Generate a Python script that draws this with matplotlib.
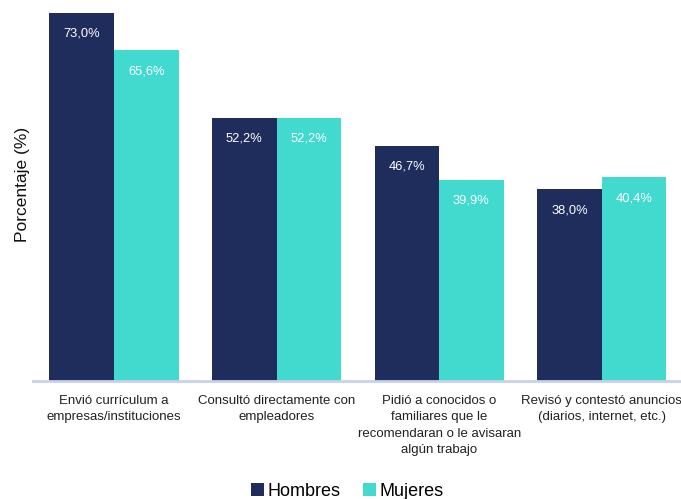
import matplotlib
matplotlib.use("Agg")
import matplotlib.pyplot as plt
from matplotlib import font_manager
import numpy as np

categories = [
    "Envió currículum a\nempresas/instituciones",
    "Consultó directamente con\nempleadores",
    "Pidió a conocidos o\nfamiliares que le\nrecomendaran o le avisaran\nalgún trabajo",
    "Revisó y contestó anuncios\n(diarios, internet, etc.)",
]
hombres = [73.0, 52.2, 46.7, 38.0]
mujeres = [65.6, 52.2, 39.9, 40.4]
series_names = ["Hombres", "Mujeres"]
colors = ["#1F2D5C", "#42D9CF"]

plt.rcParams['font.family'] = ['Liberation Sans', 'DejaVu Sans']
names = {f.name for f in font_manager.fontManager.ttflist}
narrow = 'Liberation Sans Narrow' if 'Liberation Sans Narrow' in names else None

fig = plt.figure(figsize=(6.81, 4.99), dpi=100)
ax = fig.add_axes([33/681, 1-381/499, (683-33)/681, 75*5.04/499])

x = np.arange(len(categories))
w = 0.397
b1 = ax.bar(x - w/2, hombres, w, color=colors[0], label=series_names[0])
b2 = ax.bar(x + w/2, mujeres, w, color=colors[1], label=series_names[1])

for bars, vals in ((b1, hombres), (b2, mujeres)):
    for rect, v in zip(bars, vals):
        ax.annotate(f"{v:.1f}%".replace(".", ","),
                    (rect.get_x() + rect.get_width()/2, v),
                    xytext=(0, -15), textcoords="offset points",
                    ha="center", va="center", color="white", fontsize=9.3)

ax.set_ylim(0, 75)
ax.set_xlim(-0.498, 3.5)
ax.set_yticks([])
ax.set_xticks(x)
if narrow:
    ax.set_xticklabels(categories, fontsize=11.5, color="#222222", linespacing=1.32,
                       family=[narrow, 'DejaVu Sans'])
else:
    ax.set_xticklabels(categories, fontsize=9.5, color="#222222", linespacing=1.5)
ax.tick_params(axis="x", length=0, pad=10)
for s in ["top", "right", "left"]:
    ax.spines[s].set_visible(False)
ax.spines["bottom"].set_color("#C8D1EC")
ax.spines["bottom"].set_linewidth(2)
ax.set_ylabel("Porcentaje (%)", fontsize=12.5, color="#111111")
ax.yaxis.set_label_coords(-0.005, 0.52)

leg = fig.legend(loc="center", bbox_to_anchor=(0.51, 1-491/499), ncol=2,
                 frameon=False, fontsize=13, handlelength=0.75, handleheight=0.75,
                 handletextpad=0.2, columnspacing=1.2)

fig.savefig("out.png", dpi=100)
